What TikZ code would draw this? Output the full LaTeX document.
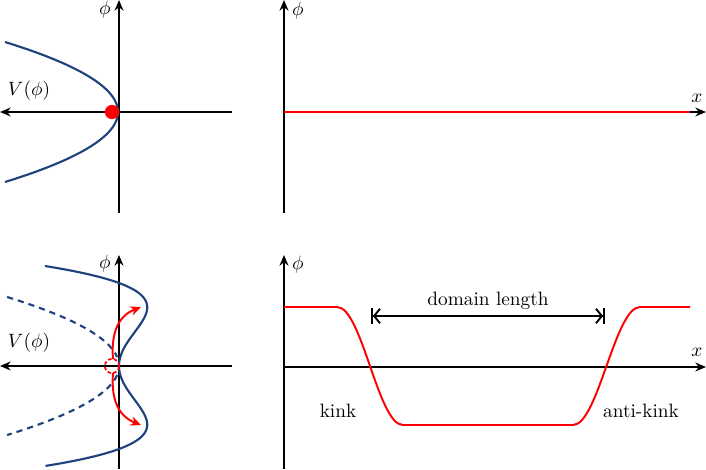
\documentclass[tikz,border=0pt]{standalone}
\usetikzlibrary{arrows.meta}
\definecolor{potblue}{RGB}{32,66,124}
\tikzset{
  axis/.style={line width=1pt,-{Stealth[length=5.5pt,width=4.6pt]}},
  pot/.style={potblue,line width=1.1pt},
  potdash/.style={potblue,line width=1.1pt,dash pattern=on 3.2pt off 2.6pt},
  field/.style={red,line width=1pt},
  redarrow/.style={red,line width=1pt,-{Stealth[length=5.5pt,width=4.8pt]}},
  lbl/.style={inner sep=0pt},
}
\begin{document}
\begin{tikzpicture}[x=0.518pt,y=-0.518pt]
\useasboundingbox (0,0) rectangle (706,469);
% ---------- top left ----------
\coordinate (tlvb) at (119,213);
\coordinate (tlvt) at (119,0);
\coordinate (tlhr) at (232,112);
\coordinate (tlhl) at (0,112);
\draw[axis] (tlvb) -- (tlvt);
\draw[axis] (tlhr) -- (tlhl);
\draw[pot] plot[domain=-0.70:0.70,samples=60,smooth] ({118-230.6*\x*\x},{112+100*\x});
\fill[red] (112,112) circle[radius=3.7pt];
\node[lbl] (tlphi) at (105,10) {$\phi$};
\node[lbl] (tlV) at (29,91) {$V(\phi)$};
% ---------- top right ----------
\coordinate (trvb) at (284,213);
\coordinate (trvt) at (284,0);
\coordinate (trhl) at (284,112);
\coordinate (trhr) at (706,112);
\coordinate (trend) at (690,112);
\draw[axis] (trvb) -- (trvt);
\draw[axis] (trhl) -- (trhr);
\draw[field,line width=1.3pt] (trhl) -- (trend);
\node[lbl] (trphi) at (298,11) {$\phi$};
\node[lbl] (trx) at (697,98) {$x$};
% ---------- bottom left ----------
\coordinate (blvb) at (119,469);
\coordinate (blvt) at (119,255);
\coordinate (blhr) at (232,366);
\coordinate (blhl) at (0,366);
\draw[axis] (blvb) -- (blvt);
\draw[axis] (blhr) -- (blhl);
\draw[pot] plot[domain=-1:1,samples=120,smooth] ({119-237.9*(\x*\x*\x*\x-0.6889*\x*\x)},{366+100*\x});
\draw[potdash] plot[domain=-0.69:-0.09,samples=40,smooth] ({119-235*\x*\x},{366+100*\x});
\draw[potdash] plot[domain=0.09:0.69,samples=40,smooth] ({119-235*\x*\x},{366+100*\x});
\draw[red,line width=0.9pt,dash pattern=on 1.8pt off 1.2pt] (112,366) circle[radius=3.7pt];
\coordinate (upS) at (113,359);
\coordinate (upE) at (141,307);
\coordinate (dnS) at (113,373);
\coordinate (dnE) at (141,425);
\draw[redarrow] (upS) .. controls (111,333) and (118,316) .. (upE);
\draw[redarrow] (dnS) .. controls (111,399) and (118,416) .. (dnE);
\node[lbl] (blphi) at (105,264) {$\phi$};
\node[lbl] (blV) at (29,343) {$V(\phi)$};
% ---------- bottom right ----------
\coordinate (brvb) at (284,469);
\coordinate (brvt) at (284,255);
\coordinate (brhl) at (284,367);
\coordinate (brhr) at (706,367);
\draw[axis] (brvb) -- (brvt);
\draw[axis] (brhl) -- (brhr);
\draw[field] (284,307) -- (337,307) .. controls (362,307) and (378,425) .. (403,425)
  -- (573,425) .. controls (598,425) and (615,307) .. (640,307) -- (690,307);
\coordinate (dlL) at (371,316);
\coordinate (dlR) at (605,316);
\draw[line width=1pt,{Bar[width=8pt,sep=0pt]Straight Barb[length=3pt,width=7.5pt]}-{Straight Barb[length=3pt,width=7.5pt]Bar[width=8pt,sep=0pt]}] (dlL) -- (dlR);
\node[lbl,anchor=base] (dl) at (488,305) {domain length};
\node[lbl,anchor=base] (kink) at (338,417) {kink};
\node[lbl,anchor=base] (akink) at (641,417) {anti-kink};
\node[lbl] (brphi) at (298,265) {$\phi$};
\node[lbl] (brx) at (697,352) {$x$};
\end{tikzpicture}
\end{document}
